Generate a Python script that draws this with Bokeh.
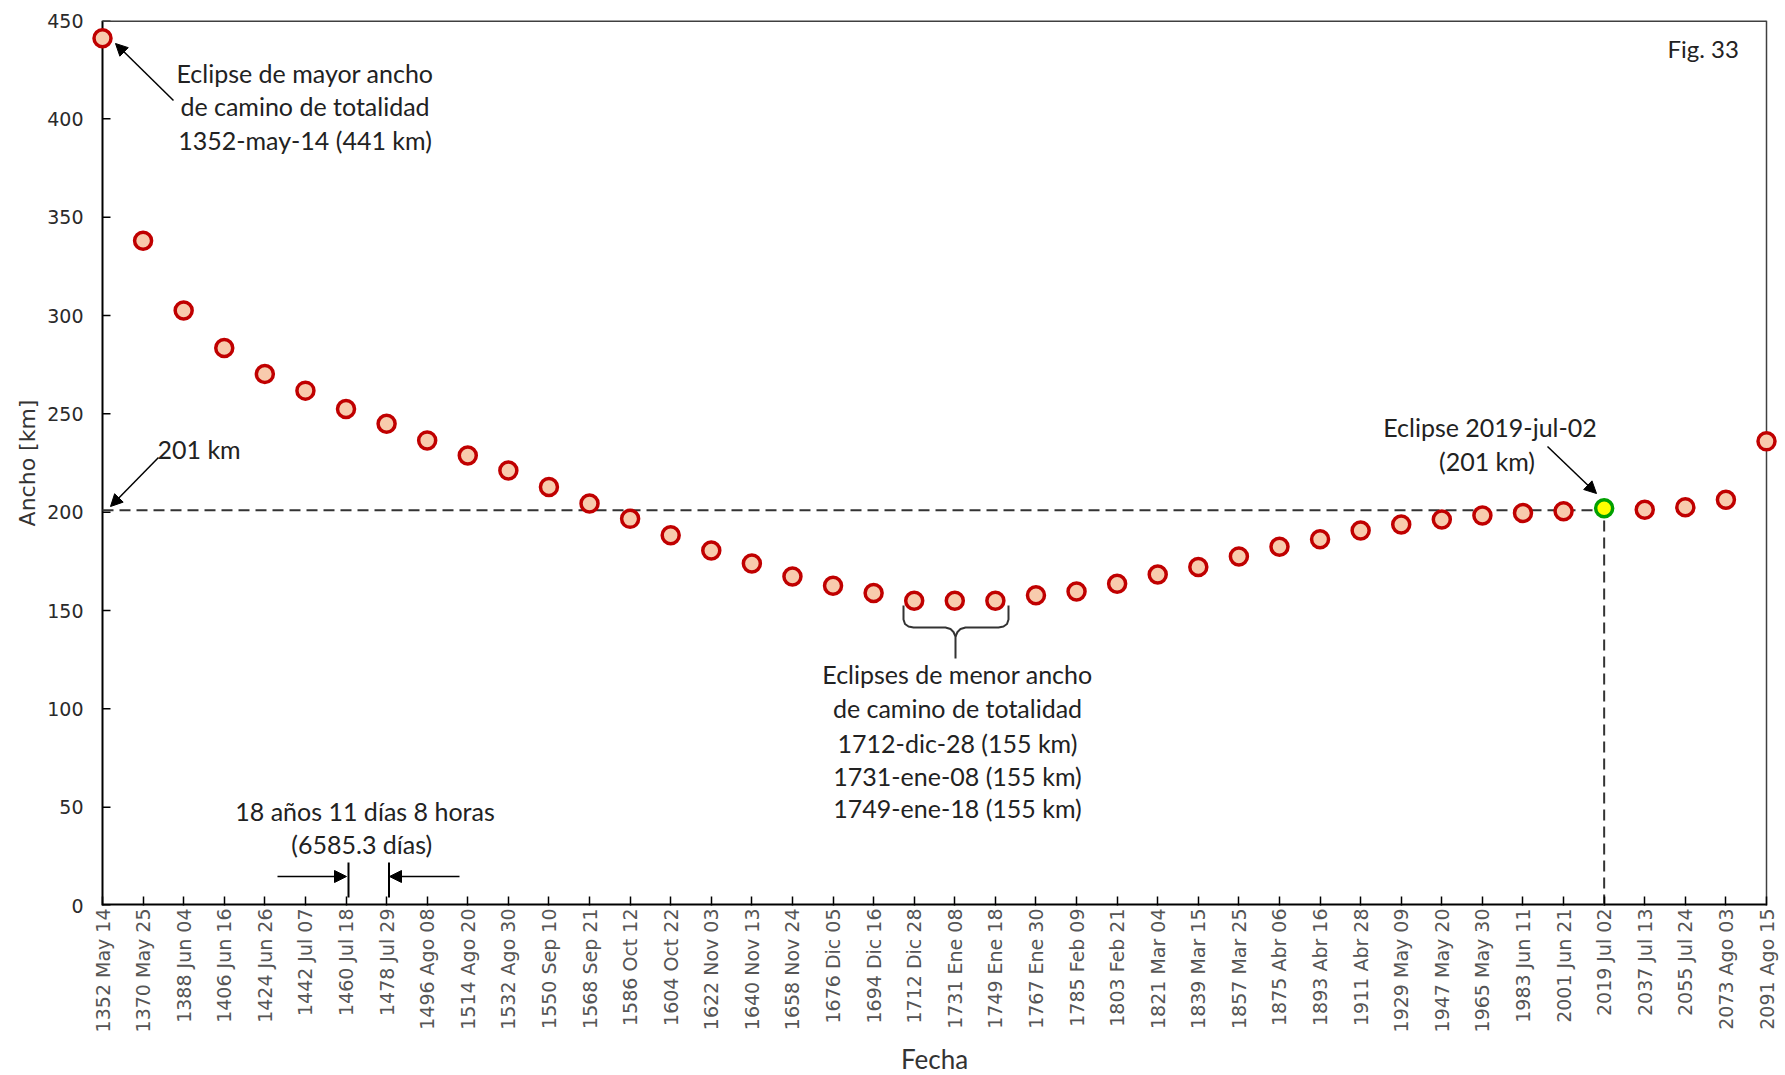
import math
from bokeh.plotting import figure
from bokeh.models import Range1d, FixedTicker, Label, Arrow, NormalHead
from bokeh.embed import file_html
from bokeh.resources import INLINE

# ---------------- data ----------------
fechas = ["1352 May 14", "1370 May 25", "1388 Jun 04", "1406 Jun 16", "1424 Jun 26",
          "1442 Jul 07", "1460 Jul 18", "1478 Jul 29", "1496 Ago 08", "1514 Ago 20",
          "1532 Ago 30", "1550 Sep 10", "1568 Sep 21", "1586 Oct 12", "1604 Oct 22",
          "1622 Nov 03", "1640 Nov 13", "1658 Nov 24", "1676 Dic 05", "1694 Dic 16",
          "1712 Dic 28", "1731 Ene 08", "1749 Ene 18", "1767 Ene 30", "1785 Feb 09",
          "1803 Feb 21", "1821 Mar 04", "1839 Mar 15", "1857 Mar 25", "1875 Abr 06",
          "1893 Abr 16", "1911 Abr 28", "1929 May 09", "1947 May 20", "1965 May 30",
          "1983 Jun 11", "2001 Jun 21", "2019 Jul 02", "2037 Jul 13", "2055 Jul 24",
          "2073 Ago 03", "2091 Ago 15"]
ancho_km = [441, 338, 302.5, 283.5, 270.3, 261.8, 252.5, 245, 236.5, 228.8,
            221.2, 212.8, 204.4, 196.6, 188.3, 180.5, 173.9, 167.3, 162.6, 158.9,
            155, 155, 155, 157.8, 159.7, 163.6, 168.3, 172.1, 177.5, 182.4,
            186.2, 190.7, 193.7, 196.3, 198.3, 199.6, 200.5, 202, 201.2, 202.5,
            206.3, 236]
indice = list(range(len(fechas)))
i_destacado = 37          # 2019 Jul 02
ancho_ref = 201           # km
y_ticks = [0, 50, 100, 150, 200, 250, 300, 350, 400, 450]

normales_x = [i for i in indice if i != i_destacado]
normales_y = [ancho_km[i] for i in normales_x]

# ---------------- figure ----------------
AREA_W, FH = 1664, 885          # plot-area size (between the axes) in px
PAD = 13                        # extra px each side so edge markers are not clipped
X0, X1 = indice[0], indice[-1]
PXX = AREA_W / (X1 - X0)
PXY = FH / 450.0
m = PAD / PXX

p = figure(frame_width=AREA_W + 2 * PAD, frame_height=FH,
           x_range=Range1d(X0 - m, X1 + m), y_range=Range1d(0, 450),
           output_backend="svg", toolbar_location=None,
           min_border_left=102 - PAD, min_border_right=2, min_border_top=20, min_border_bottom=10,
           background_fill_color="white", border_fill_color="white")
p.grid.visible = False
p.outline_line_color = None

# x axis
xa = p.xaxis[0]
xa.ticker = FixedTicker(ticks=indice)
xa.major_label_overrides = {i: f for i, f in enumerate(fechas)}
xa.major_label_orientation = math.pi / 2
xa.major_label_text_font = "DejaVu Sans"
xa.major_label_text_font_size = "19px"
xa.major_label_text_color = "#555555"
xa.major_label_standoff = 3
xa.major_tick_in = 9
xa.major_tick_out = 0
xa.minor_tick_in = 0
xa.minor_tick_out = 0
xa.axis_line_color = None
xa.major_tick_line_color = "black"
xa.major_tick_line_width = 1.5
xa.axis_label = "Fecha"
xa.axis_label_text_font = "Lato"
xa.axis_label_text_font_style = "normal"
xa.axis_label_text_font_size = "26px"
xa.axis_label_text_color = "#333333"
xa.axis_label_standoff = 8

# y axis: labels from the axis at the frame edge, line and ticks drawn at the first category
ya = p.yaxis[0]
ya.ticker = FixedTicker(ticks=y_ticks)
ya.major_label_text_font = "DejaVu Sans"
ya.major_label_text_font_size = "19px"
ya.major_label_text_color = "#2a2a2a"
ya.major_label_standoff = 0
ya.major_tick_line_color = None
ya.minor_tick_line_color = None
ya.axis_line_color = None
ya.axis_label = "Ancho [km]"
ya.axis_label_text_font = "DejaVu Sans"
ya.axis_label_text_font_style = "normal"
ya.axis_label_text_font_size = "22px"
ya.axis_label_text_color = "#333333"
ya.axis_label_standoff = 4

# plot-area border: axis lines, y ticks, top and right borders
p.line([X0, X0], [0, 450], line_color="black", line_width=2)
p.segment(x0=[X0] * len(y_ticks), y0=y_ticks, x1=[X0 + 8 / PXX] * len(y_ticks), y1=y_ticks,
          line_color="black", line_width=1.5)
p.line([X0, X1], [0, 0], line_color="black", line_width=4)
p.line([X0, X1], [450, 450], line_color="#404040", line_width=3)
p.line([X1, X1], [0, 450], line_color="#404040", line_width=1.5)

# reference dashed lines
p.line([indice[0], indice[i_destacado]], [ancho_ref, ancho_ref],
       line_color="#333333", line_width=2, line_dash="11 6")
p.line([indice[i_destacado], indice[i_destacado]], [0, ancho_ref],
       line_color="#333333", line_width=2, line_dash="11 6")

# markers
p.scatter(normales_x, normales_y, size=17, marker="circle",
          fill_color="#F8CBAD", line_color="#C00000", line_width=3.5)
p.scatter([indice[i_destacado]], [ancho_km[i_destacado]], size=17, marker="circle",
          fill_color="#FFFF00", line_color="#00A000", line_width=3.5)

# ---------------- annotations (positions in reference pixels) ----------------
def dx(X):
    return X0 + (X - 102) / PXX
def dy(Y):
    return (905 - Y) / PXY

TXT_FONT = "Lato"
TXT_SIZE = "25px"
TXT_COLOR = "#222222"

def texto(X, Y, s, align="center", size=TXT_SIZE):
    p.add_layout(Label(x=dx(X), y=dy(Y), text=s, text_align=align, text_baseline="middle",
                       text_font=TXT_FONT, text_font_size=size, text_color=TXT_COLOR))

def flecha(Xa, Ya, Xb, Yb):
    p.add_layout(Arrow(end=NormalHead(size=12, fill_color="black", line_color="black", line_width=1),
                       x_start=dx(Xa), y_start=dy(Ya), x_end=dx(Xb), y_end=dy(Yb),
                       line_color="black", line_width=1.5))

for s, Y in zip(["Eclipse de mayor ancho", "de camino de totalidad", "1352-may-14 (441 km)"],
                [72, 105, 139]):
    texto(304.5, Y, s)
flecha(173, 100, 115, 43)

texto(157, 448, "201 km", align="left")
flecha(158, 457, 110, 506)

texto(1489.5, 426.7, "Eclipse 2019-jul-02")
texto(1486.5, 460, "(201 km)")
flecha(1547, 446, 1596, 493)

for s, Y in zip(["Eclipses de menor ancho", "de camino de totalidad", "1712-dic-28 (155 km)",
                 "1731-ene-08 (155 km)", "1749-ene-18 (155 km)"],
                [673, 707, 742, 775, 807]):
    texto(957, Y, s)

brace_l = [(903, 605), (903, 619), (904.5, 623.5), (908, 626), (913, 627), (945, 627),
           (950, 628.5), (953, 631.5), (955, 636), (955, 658)]
brace_r = [(1008, 605), (1008, 619), (1006.5, 623.5), (1003, 626), (998, 627), (965, 627),
           (960, 628.5), (957, 631.5), (955, 636)]
p.multi_line([[dx(a) for a, b in brace_l], [dx(a) for a, b in brace_r]],
             [[dy(b) for a, b in brace_l], [dy(b) for a, b in brace_r]],
             line_color="#333333", line_width=2)

texto(364.5, 810, "18 años 11 días 8 horas")
texto(364.5, 843, "(6585.3  días)")
flecha(277, 876, 346, 876)
flecha(459, 876, 389, 876)
p.multi_line([[dx(348), dx(348)], [dx(388.5), dx(388.5)]],
             [[dy(862), dy(897)], [dy(862), dy(897)]],
             line_color="black", line_width=2)

texto(1667, 48, "Fig. 33", align="left", size="24px")

open("out.html", "w").write(file_html(p, INLINE))
